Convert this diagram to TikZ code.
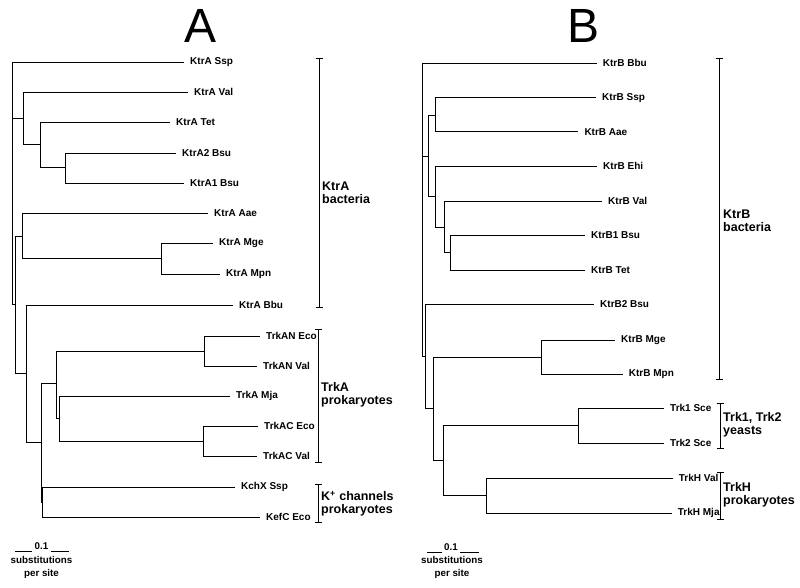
\documentclass[tikz,border=0pt]{standalone}
\usepackage{fontspec}
\setmainfont{Liberation Sans}
\usetikzlibrary{arrows.meta}

\begin{document}
\begin{tikzpicture}[x=1pt,y=-1pt,
  branch/.style={line width=.9pt},
  leaf/.style={anchor=west,inner xsep=6pt,inner ysep=1pt,font=\bfseries\fontsize{10}{11}\selectfont},
  group/.style={anchor=west,align=left,inner sep=0pt,font=\bfseries\fontsize{12.5}{12.8}\selectfont},
  bracket/.style={line width=1pt,{Bar[width=7pt]}-{Bar[width=7pt]}},
  scaletxt/.style={align=center,inner sep=0pt,font=\bfseries\fontsize{9.8}{13}\selectfont},
  title/.style={font=\fontsize{48}{48}\selectfont,inner sep=0pt}]
\useasboundingbox (0,0) rectangle (800,587);

% panel titles
\node[title] (titleA) at (201,26) {A};
\node[title] (titleB) at (584,26) {B};

% tree A: leaves
\node[leaf] (sspA) at (184,62) {KtrA Ssp};
\node[leaf] (valA) at (188,92) {KtrA Val};
\node[leaf] (tetA) at (170,122) {KtrA Tet};
\node[leaf] (bsu2A) at (176,153) {KtrA2 Bsu};
\node[leaf] (bsu1A) at (184,183) {KtrA1 Bsu};
\node[leaf] (aaeA) at (208,213) {KtrA Aae};
\node[leaf] (mgeA) at (213,243) {KtrA Mge};
\node[leaf] (mpnA) at (220,274) {KtrA Mpn};
\node[leaf] (bbuA) at (233,305) {KtrA Bbu};
\node[leaf] (trkANeco) at (260,336) {TrkAN Eco};
\node[leaf] (trkANval) at (257,366) {TrkAN Val};
\node[leaf] (trkAmja) at (230,396) {TrkA Mja};
\node[leaf] (trkACeco) at (258,426) {TrkAC Eco};
\node[leaf] (trkACval) at (257,456) {TrkAC Val};
\node[leaf] (kchX) at (235,487) {KchX Ssp};
\node[leaf] (kefC) at (260,517) {KefC Eco};

% tree A: inner nodes
\coordinate (a1) at (12.7,118);
\coordinate (a2) at (23.3,118);
\coordinate (a3) at (40,144);
\coordinate (a4) at (65.7,167.5);
\coordinate (a5) at (15,304);
\coordinate (a6) at (22.7,236);
\coordinate (a7) at (161,258.5);
\coordinate (a8) at (26,373);
\coordinate (a9) at (41,442);
\coordinate (a10) at (56.5,383.5);
\coordinate (a11) at (204,351);
\coordinate (a12) at (59,418);
\coordinate (a13) at (42.7,502);
\coordinate (a14) at (203,441);

\foreach \p/\c in {a1/sspA,a1/a2,a1/a5,a2/valA,a2/a3,a3/tetA,a3/a4,a4/bsu2A,a4/bsu1A,
  a5/a6,a5/a8,a6/aaeA,a6/a7,a7/mgeA,a7/mpnA,a8/bbuA,a8/a9,a9/a10,a9/a13,
  a10/a11,a10/a12,a11/trkANeco,a11/trkANval,a12/trkAmja,a12/a14,
  a14/trkACeco,a14/trkACval,a13/kchX,a13/kefC}
  \draw[branch] (\p) |- (\c);

% tree B: leaves
\node[leaf] (bbuB) at (596.7,63) {KtrB Bbu};
\node[leaf] (sspB) at (596,97.7) {KtrB Ssp};
\node[leaf] (aaeB) at (578.3,131.7) {KtrB Aae};
\node[leaf] (ehiB) at (597,166.3) {KtrB Ehi};
\node[leaf] (valB) at (602,201) {KtrB Val};
\node[leaf] (bsu1B) at (585,235.3) {KtrB1 Bsu};
\node[leaf] (tetB) at (585,270) {KtrB Tet};
\node[leaf] (bsu2B) at (594,304.3) {KtrB2 Bsu};
\node[leaf] (mgeB) at (615,340) {KtrB Mge};
\node[leaf] (mpnB) at (622.7,374.3) {KtrB Mpn};
\node[leaf] (trk1) at (664,408.3) {Trk1 Sce};
\node[leaf] (trk2) at (664,443.3) {Trk2 Sce};
\node[leaf] (trkHval) at (672.7,478.3) {TrkH Val};
\node[leaf] (trkHmja) at (671.7,513.3) {TrkH Mja};

% tree B: inner nodes
\coordinate (b1) at (422.7,156);
\coordinate (b2) at (428.3,156);
\coordinate (b3) at (435.7,115);
\coordinate (b4) at (435.3,196.7);
\coordinate (b5) at (444,227.5);
\coordinate (b6) at (450,252.7);
\coordinate (b7) at (425,356.5);
\coordinate (b8) at (433.3,408.3);
\coordinate (b9) at (541.7,357.2);
\coordinate (b10) at (443.3,460.7);
\coordinate (b11) at (578.3,425.8);
\coordinate (b12) at (486,495.8);

\foreach \p/\c in {b1/bbuB,b1/b2,b1/b7,b2/b3,b2/b4,b3/sspB,b3/aaeB,b4/ehiB,b4/b5,
  b5/valB,b5/b6,b6/bsu1B,b6/tetB,b7/bsu2B,b7/b8,b8/b9,b8/b10,b9/mgeB,b9/mpnB,
  b10/b11,b10/b12,b11/trk1,b11/trk2,b12/trkHval,b12/trkHmja}
  \draw[branch] (\p) |- (\c);

% group brackets
\coordinate (ktrAtop) at (319.3,58);   \coordinate (ktrAbot) at (319.3,308);
\coordinate (trkAtop) at (318.3,329);  \coordinate (trkAbot) at (318.3,463);
\coordinate (kchtop) at (318.3,484);   \coordinate (kchbot) at (318.3,523);
\coordinate (ktrBtop) at (719.3,58);   \coordinate (ktrBbot) at (719.3,380);
\coordinate (yeasttop) at (720,403);   \coordinate (yeastbot) at (720,449);
\coordinate (trkHtop) at (720.7,472);  \coordinate (trkHbot) at (720.7,520);
\draw[bracket] (ktrAtop) -- (ktrAbot);
\draw[bracket] (trkAtop) -- (trkAbot);
\draw[bracket] (kchtop) -- (kchbot);
\draw[bracket] (ktrBtop) -- (ktrBbot);
\draw[bracket] (yeasttop) -- (yeastbot);
\draw[bracket] (trkHtop) -- (trkHbot);

\node[group] (ktrAlab) at (322,193) {KtrA\\bacteria};
\node[group] (trkAlab) at (321,394.5) {TrkA\\prokaryotes};
\node[group] (kchlab) at (321,503.5) {K\textsuperscript{+} channels\\prokaryotes};
\node[group] (ktrBlab) at (723,220.5) {KtrB\\bacteria};
\node[group] (yeastlab) at (723,425) {Trk1, Trk2\\yeasts};
\node[group] (trkHlab) at (723,494.5) {TrkH\\prokaryotes};

% scale bars
\node[scaletxt] (scA) at (41.5,546) {0.1};
\coordinate (scAl) at (15,551); \coordinate (scAr) at (69,551);
\draw[branch] (scAl) -- ([xshift=-2pt]scA.west |- scAl);
\draw[branch] ([xshift=2pt]scA.east |- scAr) -- (scAr);
\node[scaletxt] (scAtxt) at (41.5,567.5) {substitutions\\per site};

\node[scaletxt] (scB) at (451,547) {0.1};
\coordinate (scBl) at (427,552); \coordinate (scBr) at (479,552);
\draw[branch] (scBl) -- ([xshift=-2pt]scB.west |- scBl);
\draw[branch] ([xshift=2pt]scB.east |- scBr) -- (scBr);
\node[scaletxt] (scBtxt) at (452,567.5) {substitutions\\per site};
\end{tikzpicture}
\end{document}
